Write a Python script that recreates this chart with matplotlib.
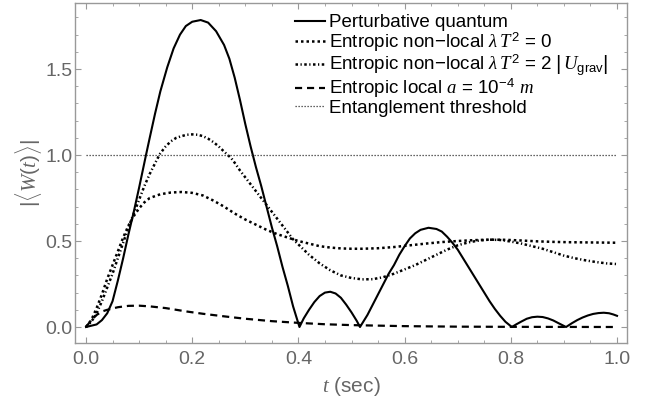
import matplotlib
matplotlib.use('Agg')
import matplotlib.pyplot as plt
from matplotlib.ticker import MultipleLocator

plt.rcParams['font.family'] = ['Liberation Sans', 'DejaVu Sans']
plt.rcParams['mathtext.fontset'] = 'custom'
plt.rcParams['mathtext.rm'] = 'Liberation Sans'
plt.rcParams['mathtext.sf'] = 'Liberation Sans'
plt.rcParams['mathtext.it'] = 'Liberation Serif:italic'
plt.rcParams['mathtext.bf'] = 'Liberation Sans:bold'

# perturbative quantum
t_pq = [0.0, 0.02, 0.03, 0.04, 0.05, 0.06, 0.07, 0.08, 0.09, 0.10, 0.113, 0.12, 0.13,
        0.14, 0.153, 0.165, 0.177, 0.188, 0.20, 0.216, 0.23, 0.245, 0.26, 0.27, 0.28, 0.29,
        0.30, 0.31, 0.32, 0.33, 0.34, 0.35, 0.36, 0.37, 0.38, 0.39, 0.402,
        0.41, 0.42, 0.43, 0.44, 0.45, 0.46, 0.47, 0.48, 0.49, 0.50, 0.51, 0.516,
        0.53, 0.54, 0.55, 0.56, 0.57, 0.58, 0.59, 0.60, 0.61, 0.62, 0.63, 0.645,
        0.66, 0.67, 0.68, 0.69, 0.70, 0.71, 0.72, 0.73, 0.74, 0.75, 0.76, 0.77,
        0.78, 0.79, 0.802, 0.81, 0.82, 0.83, 0.84, 0.85, 0.86, 0.87, 0.88, 0.89,
        0.904, 0.915, 0.925, 0.935, 0.945, 0.955, 0.965, 0.975, 0.985, 0.993, 1.0]
w_pq = [0.0, 0.015, 0.04, 0.08, 0.15, 0.27, 0.40, 0.54, 0.67, 0.81, 1.0, 1.10, 1.24,
        1.37, 1.51, 1.62, 1.70, 1.75, 1.775, 1.785, 1.77, 1.72, 1.64, 1.56, 1.45, 1.32,
        1.18, 1.05, 0.93, 0.82, 0.70, 0.58, 0.47, 0.35, 0.24, 0.12, 0.0,
        0.05, 0.10, 0.145, 0.18, 0.20, 0.205, 0.195, 0.17, 0.13, 0.085, 0.035, 0.0,
        0.07, 0.13, 0.19, 0.25, 0.31, 0.36, 0.42, 0.47, 0.515, 0.545, 0.565, 0.577,
        0.57, 0.555, 0.525, 0.49, 0.45, 0.40, 0.35, 0.30, 0.25, 0.20, 0.15, 0.105,
        0.065, 0.03, 0.0, 0.015, 0.032, 0.048, 0.057, 0.06, 0.058, 0.05, 0.038, 0.022,
        0.0, 0.022, 0.04, 0.055, 0.067, 0.076, 0.081, 0.083, 0.08, 0.073, 0.065]

# entropic non-local, lambda T^2 = 0
t_nl0 = [0.0, 0.01, 0.02, 0.03, 0.04, 0.05, 0.06, 0.07, 0.08, 0.09, 0.10, 0.11, 0.12,
         0.14, 0.16, 0.18, 0.20, 0.22, 0.24, 0.26, 0.28, 0.30, 0.32, 0.34, 0.36,
         0.38, 0.40, 0.42, 0.44, 0.46, 0.48, 0.50, 0.52, 0.55, 0.58, 0.61, 0.64,
         0.67, 0.70, 0.73, 0.76, 0.79, 0.82, 0.85, 0.88, 0.91, 0.94, 0.97, 1.0]
w_nl0 = [0.0, 0.04, 0.11, 0.19, 0.28, 0.36, 0.44, 0.52, 0.59, 0.645, 0.69, 0.725, 0.75,
         0.772, 0.782, 0.785, 0.78, 0.765, 0.735, 0.70, 0.66, 0.625, 0.595, 0.565, 0.54,
         0.52, 0.50, 0.485, 0.47, 0.462, 0.457, 0.455, 0.455, 0.458, 0.465, 0.475, 0.485,
         0.494, 0.50, 0.505, 0.508, 0.507, 0.503, 0.498, 0.495, 0.493, 0.492, 0.491, 0.49]

# entropic non-local, lambda T^2 = 2|U_grav|
t_nl2 = [0.0, 0.01, 0.02, 0.03, 0.04, 0.05, 0.06, 0.07, 0.08, 0.09, 0.10, 0.11, 0.12,
         0.133, 0.14, 0.15, 0.16, 0.17, 0.18, 0.19, 0.20, 0.21, 0.22, 0.23, 0.24,
         0.25, 0.26, 0.274, 0.28, 0.29, 0.30, 0.31, 0.32, 0.33, 0.34, 0.35, 0.36,
         0.37, 0.38, 0.39, 0.40, 0.42, 0.44, 0.46, 0.48, 0.50, 0.52, 0.54, 0.56,
         0.58, 0.60, 0.62, 0.64, 0.66, 0.68, 0.70, 0.72, 0.74, 0.76, 0.78, 0.80,
         0.82, 0.84, 0.86, 0.88, 0.90, 0.92, 0.94, 0.96, 0.98, 1.0]
w_nl2 = [0.0, 0.03, 0.08, 0.15, 0.23, 0.31, 0.40, 0.49, 0.58, 0.66, 0.74, 0.82, 0.89,
         0.97, 1.01, 1.05, 1.08, 1.10, 1.11, 1.118, 1.12, 1.118, 1.11, 1.095, 1.075,
         1.05, 1.02, 0.98, 0.955, 0.91, 0.87, 0.83, 0.79, 0.75, 0.71, 0.67, 0.63,
         0.59, 0.55, 0.51, 0.48, 0.42, 0.37, 0.33, 0.30, 0.285, 0.277, 0.278, 0.29,
         0.31, 0.335, 0.36, 0.39, 0.42, 0.45, 0.475, 0.492, 0.503, 0.508, 0.506, 0.497,
         0.485, 0.47, 0.455, 0.435, 0.415, 0.40, 0.388, 0.378, 0.37, 0.366]

# entropic local, a = 1e-4 m
t_loc = [0.0, 0.01, 0.02, 0.03, 0.04, 0.06, 0.08, 0.10, 0.12, 0.15, 0.19, 0.22, 0.26,
         0.30, 0.35, 0.40, 0.45, 0.50, 0.60, 0.70, 0.80, 1.0]
w_loc = [0.0, 0.04, 0.07, 0.09, 0.10, 0.115, 0.123, 0.124, 0.12, 0.11, 0.09, 0.077, 0.062,
         0.048, 0.034, 0.024, 0.016, 0.011, 0.005, 0.002, 0.001, 0.0]

threshold = 1.0

labels = ['Perturbative quantum',
          'Entropic non\u2212local $\\lambda\\,T^2$ = 0',
          'Entropic non\u2212local $\\lambda\\,T^2$ = 2 $\\left|\\,U_{\\mathrm{grav}}\\right|$',
          'Entropic local $a$ = 10$^{\\mathrm{\u22124}}$ $m$',
          'Entanglement threshold']

gray = '#666666'
fig = plt.figure(figsize=(6.63, 4.09), dpi=100)
ax = fig.add_axes([75 / 663, 66 / 409, 552 / 663, 340 / 409])

ax.plot(t_pq, w_pq, color='black', lw=1.5, label=labels[0])
ax.plot(t_nl0, w_nl0, color='black', lw=1.8, linestyle=(0, (1, 1.2)), label=labels[1])
ax.plot(t_nl2, w_nl2, color='black', lw=1.8, linestyle=(0, (1, 1, 0.5, 1)), label=labels[2])
ax.plot(t_loc, w_loc, color='black', lw=1.6, linestyle=(0, (3.2, 2.2)), label=labels[3])
ax.axhline(threshold, xmin=0.02, xmax=0.98, color='#333333', lw=0.9,
           linestyle=(0, (1, 1.4)), label=labels[4])

ax.set_xlim(-0.0207, 1.0188)
ax.set_ylim(-0.093, 1.884)

ax.xaxis.set_major_locator(MultipleLocator(0.2))
ax.xaxis.set_minor_locator(MultipleLocator(0.05))
ax.yaxis.set_major_locator(MultipleLocator(0.5))
ax.yaxis.set_minor_locator(MultipleLocator(0.1))
ax.tick_params(which='both', direction='in', top=True, right=True, color='#999999',
               labelcolor=gray, labelsize=14)
ax.tick_params(which='major', length=4, width=0.8)
ax.tick_params(which='minor', length=2.5, width=0.6)
ax.tick_params(axis='x', which='major', pad=6)
ax.tick_params(axis='y', which='major', pad=2)
for s in ax.spines.values():
    s.set_color('#999999')
    s.set_linewidth(1.0)

ax.set_xlabel('$t$ (sec)', fontsize=15, color=gray, labelpad=5)
ax.set_ylabel('$|\\langle W(t)\\rangle|$', fontsize=15, color=gray, labelpad=1)

ax.legend(loc='upper left', bbox_to_anchor=(295 / 663, 1 - 14 / 409),
          bbox_transform=fig.transFigure, frameon=False, fontsize=13.5,
          handlelength=1.6, handletextpad=0.2, labelspacing=-0.05, borderpad=0,
          borderaxespad=0)

fig.savefig('out.png', dpi=100)
